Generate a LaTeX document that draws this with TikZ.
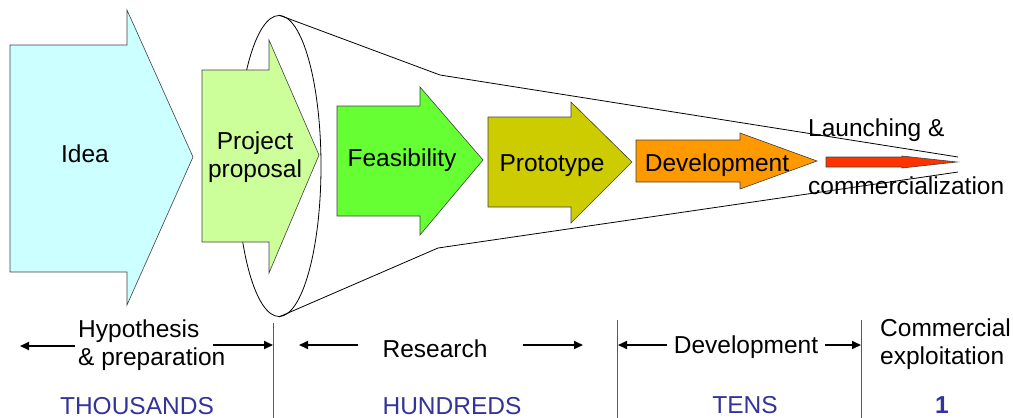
\documentclass[tikz,border=0pt]{standalone}
\usepackage{fontspec}
\setmainfont{Liberation Sans}
\usetikzlibrary{arrows.meta,shapes.geometric}
\definecolor{cIdea}{HTML}{CCFFFF}
\definecolor{cProp}{HTML}{CCFF99}
\definecolor{cFeas}{HTML}{66FF33}
\definecolor{cProt}{HTML}{CCCC00}
\definecolor{cDev}{HTML}{FF9900}
\definecolor{cRed}{HTML}{FF3300}
\definecolor{cBlue}{HTML}{333399}
\begin{document}
\begin{tikzpicture}[x=1pt,y=-1pt,
  blockarrow/.style={draw=black!75, line width=0.6pt, line join=miter},
  funnelline/.style={draw=black, line width=0.8pt},
  lbl/.style={font=\fontsize{24.5}{28}\selectfont, inner sep=0pt},
  count/.style={font=\fontsize{24.5}{28}\selectfont, text=cBlue, inner sep=0pt},
  sepline/.style={draw=black!65, line width=1pt},
  spanarrow/.style={draw=black, line width=1.8pt, -{Triangle[length=9pt,width=8pt]}, shorten >=0pt}]
\useasboundingbox (0,0) rectangle (1013,418);

% funnel
\node[draw, line width=0.8pt, ellipse, minimum width=84pt, minimum height=301pt, inner sep=0pt] (funnel) at (279,166) {};
\coordinate (tbend) at (440,75);
\coordinate (tend) at (958,157);
\coordinate (bbend) at (438,248);
\coordinate (bend) at (958,172);
\draw[funnelline] (funnel.north) -- (tbend) -- (tend);
\draw[funnelline] (funnel.south) -- (bbend) -- (bend);

% block arrows
\path[blockarrow, fill=cIdea] (10,45) -- (127,45) -- (127,10) -- (193,157) -- (127,305) -- (127,272) -- (10,272) -- cycle;
\path[blockarrow, fill=cProp] (202,70) -- (269,70) -- (269,40) -- (319,155) -- (269,273) -- (269,242) -- (202,242) -- cycle;
\path[blockarrow, fill=cFeas] (337,106) -- (420,106) -- (420,87) -- (483,160) -- (420,235) -- (420,216) -- (337,216) -- cycle;
\path[blockarrow, fill=cProt] (488,117) -- (571,117) -- (571,102) -- (632,162) -- (571,223) -- (571,207) -- (488,207) -- cycle;
\path[blockarrow, fill=cDev] (636,140) -- (740,140) -- (740,133) -- (817,161) -- (740,189) -- (740,182) -- (636,182) -- cycle;
\path[blockarrow, fill=cRed] (826,157) -- (902,157) -- (902,156) -- (957,162) -- (902,168) -- (902,167) -- (826,167) -- cycle;

% arrow labels
\node[lbl, anchor=base] (idea) at (85,162) {Idea};
\node[lbl, anchor=base, align=center] (prop) at (255,177) {Project\\proposal};
\node[lbl, anchor=base] (feas) at (402,166) {Feasibility};
\node[lbl, anchor=base] (prot) at (552,171) {Prototype};
\node[lbl, anchor=base] (dev) at (717,171) {Development};
\node[lbl, anchor=base west] (launch) at (808,136) {Launching \&};
\node[lbl, anchor=base west] (comm) at (808,194) {commercialization};

% separators
\coordinate (s1t) at (273,323); \coordinate (s1b) at (273,418);
\coordinate (s2t) at (617,320); \coordinate (s2b) at (617,418);
\coordinate (s3t) at (861,320); \coordinate (s3b) at (861,418);
\draw[sepline] (s1t) -- (s1b);
\draw[sepline] (s2t) -- (s2b);
\draw[sepline] (s3t) -- (s3b);

% phase labels
\node[lbl, anchor=base west, align=left] (hyp) at (78,365) {Hypothesis\\\& preparation};
\node[lbl, anchor=base] (res) at (435,357) {Research};
\node[lbl, anchor=base] (devp) at (746,353) {Development};
\node[lbl, anchor=base west, align=left] (cexp) at (880,364) {Commercial\\exploitation};

% span arrows
\coordinate (a1s) at (75,346); \coordinate (a1e) at (20,346);
\coordinate (a2s) at (213,345); \coordinate (a2e) at (273,345);
\coordinate (a3s) at (358,345); \coordinate (a3e) at (299,345);
\coordinate (a4s) at (523,345); \coordinate (a4e) at (583,345);
\coordinate (a5s) at (667,345); \coordinate (a5e) at (618,345);
\coordinate (a6s) at (825,345); \coordinate (a6e) at (861,345);
\draw[spanarrow] (a1s) -- (a1e);
\draw[spanarrow] (a2s) -- (a2e);
\draw[spanarrow] (a3s) -- (a3e);
\draw[spanarrow] (a4s) -- (a4e);
\draw[spanarrow] (a5s) -- (a5e);
\draw[spanarrow] (a6s) -- (a6e);

% counts
\node[count, anchor=base] (thou) at (137,414) {THOUSANDS};
\node[count, anchor=base] (hund) at (452,414) {HUNDREDS};
\node[count, anchor=base] (tens) at (745,413) {TENS};
\node[count, anchor=base, font=\fontsize{24.5}{28}\selectfont\bfseries] (one) at (942,413) {1};
\end{tikzpicture}
\end{document}
